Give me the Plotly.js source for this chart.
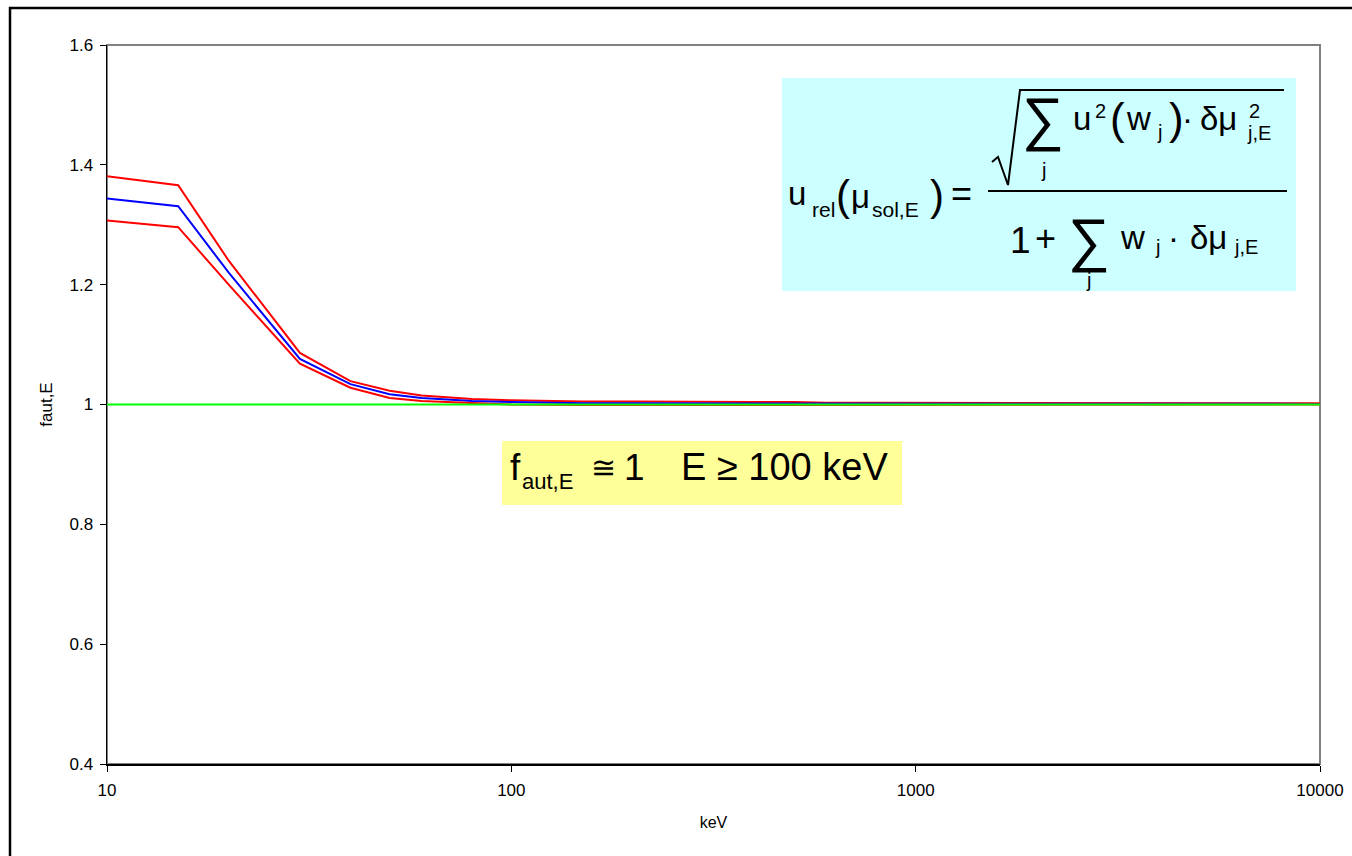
<!DOCTYPE html>
<html>
<head>
<meta charset="utf-8">
<script src="https://cdn.plot.ly/plotly-3.0.1.min.js"></script>
<style>html,body{margin:0;padding:0;background:#fff;}#chart{width:1352px;height:856px;}</style>
</head>
<body>
<div id="chart"></div>
<script>
// ---- data ----
const energyKeV = [10, 15, 20, 30, 40, 50, 60, 80, 100, 150, 200, 300, 400, 500, 600, 800, 1000, 1250, 1500, 2000, 3000, 4000, 5000, 6000, 8000, 10000];
const fUpper = [1.381, 1.366, 1.240, 1.086, 1.039, 1.023, 1.015, 1.009, 1.007, 1.005, 1.005, 1.004, 1.004, 1.004, 1.003, 1.003, 1.003, 1.002, 1.002, 1.002, 1.002, 1.002, 1.002, 1.002, 1.002, 1.002];
const fCentral = [1.344, 1.331, 1.220, 1.076, 1.034, 1.017, 1.011, 1.006, 1.004, 1.002, 1.002, 1.002, 1.002, 1.002, 1.001, 1.001, 1.001, 1.001, 1.001, 1.001, 1.001, 1.001, 1.001, 1.001, 1.001, 1.001];
const fLower = [1.307, 1.296, 1.200, 1.068, 1.028, 1.011, 1.006, 1.002, 1.000, 0.999, 0.999, 0.999, 0.999, 0.999, 0.999, 0.999, 1.000, 1.000, 1.000, 1.000, 1.000, 1.000, 1.000, 1.000, 1.000, 1.000];
const fUnity = [1, 1, 1, 1, 1, 1, 1, 1, 1, 1, 1, 1, 1, 1, 1, 1, 1, 1, 1, 1, 1, 1, 1, 1, 1, 1];
const xTickVals = [10, 100, 1000, 10000];
const xTickText = ['10', '100', '1000', '10000'];
const yTickVals = [0.4, 0.6, 0.8, 1.0, 1.2, 1.4, 1.6];
const yTickText = ['0.4', '0.6', '0.8', '1', '1.2', '1.4', '1.6'];
const xTitle = 'keV';
const yTitle = 'faut,E';

// ---- layout helpers (pixel -> paper) ----
const W = 1352, H = 856, L = 107, R = 1320, T = 45, B = 764;
const px = x => (x - L) / (R - L);
const py = y => (B - y) / (B - T);
const FONT = 'Liberation Sans, Arial, sans-serif';
// text centred horizontally at xc, with its baseline at pixel row `base`
function txt(text, xc, base, size) {
  return {
    xref: 'paper', yref: 'paper', x: px(xc), y: py(base - 0.35 * size),
    xanchor: 'center', yanchor: 'middle', showarrow: false, borderpad: 0,
    text: text, font: {family: FONT, size: size, color: '#000'}
  };
}
function txtL(text, xl, base, size) {
  const a = txt(text, xl, base, size);
  a.xanchor = 'left';
  return a;
}

const traces = [
  {x: energyKeV, y: fUpper, mode: 'lines', line: {color: '#FF0000', width: 2}, name: 'upper'},
  {x: energyKeV, y: fCentral, mode: 'lines', line: {color: '#0000FF', width: 2}, name: 'f'},
  {x: energyKeV, y: fLower, mode: 'lines', line: {color: '#FF0000', width: 2}, name: 'lower'},
  {x: energyKeV, y: fUnity, mode: 'lines', line: {color: '#00FF00', width: 2}, name: 'unity'}
];

const annotations = [
  // formula: u_rel(mu_sol,E) = sqrt(sum_j u^2(w_j) . dmu^2_j,E) / (1 + sum_j w_j . dmu_j,E)
  txt('u', 797, 205, 33),
  txt('rel', 823, 217, 21),
  txt('(', 843, 210, 42),
  txt('μ', 860, 208, 33),
  txt('sol,E', 896, 217, 21),
  txt(')', 937, 210, 42),
  txt('=', 961, 206, 36),
  // numerator
  txt('∑', 1043, 140, 59),
  txt('j', 1043, 177, 20),
  txt('u', 1082, 130, 33),
  txt('2', 1100, 118, 20),
  txt('(', 1117, 134, 44),
  txt('w', 1138, 130, 33),
  txt('j', 1159, 139, 20),
  txt(')', 1176, 134, 44),
  txt('·', 1187, 130, 33),
  txt('δμ', 1218, 130, 33),
  txt('2', 1254, 118, 20),
  txt('j,E', 1259, 140, 20),
  // denominator
  txt('1', 1020, 253, 37),
  txt('+', 1045, 251, 36),
  txt('∑', 1089, 261, 59),
  txt('j', 1088, 287, 20),
  txt('w', 1132, 249, 33),
  txt('j', 1157, 254, 20),
  txt('·', 1173, 249, 33),
  txt('δμ', 1208, 249, 33),
  txt('j,E', 1246, 254, 20),
  // yellow box text
  txtL('f', 509, 480, 37),
  txtL('aut,E', 521, 489, 22),
  txt('≅', 603, 478, 30),
  txtL('1', 623, 480, 37),
  txtL('E ≥ 100 keV', 680, 480, 38)
];

const shapes = [
  // outer frame
  {type: 'rect', xref: 'paper', yref: 'paper', x0: px(10), x1: px(1380), y0: py(8), y1: py(880), line: {color: '#000', width: 2.5}, layer: 'below'},
  // plot area frame (grey top/right)
  {type: 'rect', xref: 'paper', yref: 'paper', x0: 0, x1: 1, y0: 0, y1: 1, line: {color: '#808080', width: 2}, layer: 'below'},
  // cyan formula box
  {type: 'rect', xref: 'paper', yref: 'paper', x0: px(782), x1: px(1296), y0: py(78), y1: py(291), fillcolor: '#CCFFFF', line: {width: 0}, layer: 'above'},
  // yellow box
  {type: 'rect', xref: 'paper', yref: 'paper', x0: px(502), x1: px(902), y0: py(441), y1: py(505), fillcolor: '#FFFF99', line: {width: 0}, layer: 'above'},
  // fraction bar
  {type: 'line', xref: 'paper', yref: 'paper', x0: px(988), x1: px(1287), y0: py(191), y1: py(191), line: {color: '#000', width: 2}, layer: 'above'},
  // radical sign
  {type: 'path', xref: 'paper', yref: 'paper',
   path: 'M ' + px(992) + ' ' + py(162) + ' L ' + px(998) + ' ' + py(157) + ' L ' + px(1008) + ' ' + py(185) +
         ' L ' + px(1020) + ' ' + py(90) + ' L ' + px(1284) + ' ' + py(90),
   line: {color: '#000', width: 2}, layer: 'above'}
];

const layout = {
  width: W, height: H,
  margin: {l: L, r: W - R, t: T, b: H - B, pad: 0},
  paper_bgcolor: '#fff', plot_bgcolor: '#fff',
  showlegend: false,
  font: {family: FONT, size: 17, color: '#000'},
  xaxis: {
    type: 'log', range: [1, 4], tickvals: xTickVals, ticktext: xTickText,
    showgrid: false, zeroline: false, showline: true, linecolor: '#000', linewidth: 1.5,
    ticks: 'outside', ticklen: 6, tickcolor: '#000', tickwidth: 1,
    ticklabelstandoff: 4,
    tickfont: {family: FONT, size: 17, color: '#000'},
    title: {text: xTitle, font: {family: FONT, size: 16, color: '#000'}, standoff: 18}
  },
  yaxis: {
    range: [0.4, 1.6], tickvals: yTickVals, ticktext: yTickText,
    showgrid: false, zeroline: false, showline: true, linecolor: '#000', linewidth: 1.5,
    ticks: 'outside', ticklen: 6, tickcolor: '#000', tickwidth: 1,
    ticklabelstandoff: 3,
    tickfont: {family: FONT, size: 17, color: '#000'},
    title: {text: yTitle, font: {family: FONT, size: 17, color: '#000'}, standoff: 12}
  },
  shapes: shapes,
  annotations: annotations
};

Plotly.newPlot('chart', traces, layout, {displayModeBar: false, staticPlot: true});
</script>
</body>
</html>
